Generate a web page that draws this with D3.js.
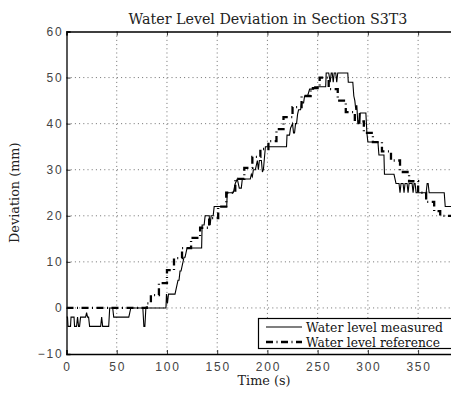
<!DOCTYPE html>
<html><head><meta charset="utf-8">
<script src="https://cdn.jsdelivr.net/npm/d3@7"></script>
<style>body{margin:0;background:#fff;overflow:hidden}</style>
</head><body>
<script>
// ---- data ----
const measuredT = [0,1,1.5,4,4.5,7.5,8,10,11,12,13,14,19,20,21,22,23,34,35,36,42,43,46,47,62,63,64,76,77,78,79,99,99.5,100.5,101.5,108,110,111,112,113,114,115,116,117,118,119,120,134.5,135,137,138,142,143,144,146,147,159.5,160,166,168,170,172,174,175,183,184,185,186,188,189,190,191,192,194,195,196,198,219,219.5,222,223,225,226,227,228,229,230,231,233,234,236,237,240,242,246,247,258,258.5,261,262.5,263.5,264.5,265.5,266.5,268,269,270,280,280.5,285,286,287,288,289,290,291,291.5,292,292.5,298,299,300,310,311,316,316.5,326,327,328,331,332,333,335,336,337,339,340,341,344,345,346,347,348,358,359,360,361,376,377,390];
const measuredV = [-2,-2,-4,-4,-2,-2,-4,-4,-2,-4,-4,-2,-2,-1,-2,-2,-4,-4,-2,-4,-4,0,0,-2,-2,-1,0,0,-4,-4,0,0,3,1,3,3,5,6,6,8,8,9,10,11,11,12,13,13,18,18,20,20,18,20,20,22,22,25,25,27,28,26,26,28,28,29,28.5,30,30,31,32,30,32,32,29.5,30,35,35,37.5,37.5,39,40,38,38,40,40,42,43,43,44.5,44.5,46,46,47.5,47.5,48,48,51,51,49,51,51,49,51,51,49,51,51,49,49,46,45,43,44,40,40,42.3,40,42.3,42.3,38,36,36,33.2,33.2,29,29,28,27,27,25,27,27,25,27,27,25,27,27,25,27,27,25,25,27,27,25,25,22,22];
const referenceT = [0,80,84,92,100,107,115,124,133,142,151,159,168,177,185,193,201,209,216,225,234,243,252,261,270,278,287,296,305,314,323,332,341,350,358,366,372,390];
const referenceV = [0,1,2.8,5.4,8.2,10.8,13,15.2,17.4,19.5,22,25,28,30.4,32.8,34.5,36.2,38.8,41.4,43.6,46,47.7,50,47.5,45,42.5,40.5,38,36,34,32,29.5,27.5,25,23,21,20,20];
const xTicks = [0,50,100,150,200,250,300,350,400];
const yTicks = [-10,0,10,20,30,40,50,60];
const seriesNames = ["Water level measured","Water level reference"];
const titleText = "Water Level Deviation in Section S3T3";
const xLabel = "Time (s)";
const yLabel = "Deviation (mm)";

// ---- layout ----
const W = 451, H = 394;
const L = 66.5, T = 31.5, B = 354;
const R = L + 400 * 1.0046;
const x = d3.scaleLinear().domain([0,400]).range([L,R]);
const y = d3.scaleLinear().domain([-10,60]).range([B,T]);

const svg = d3.select("body").append("svg").attr("width",W).attr("height",H)
  .style("font-family","'Liberation Sans', Arial, sans-serif");
svg.append("rect").attr("width",W).attr("height",H).attr("fill","#fff");

svg.append("defs").append("clipPath").attr("id","clip")
  .append("rect").attr("x",L).attr("y",T).attr("width",R-L).attr("height",B-T);

// grid
const grid = svg.append("g").attr("stroke","#000").attr("stroke-width",0.8)
  .attr("stroke-dasharray","1,3.2").attr("opacity",0.7);
grid.selectAll(".gx").data(xTicks.filter(d=>d>0)).join("line")
  .attr("x1",d=>x(d)).attr("x2",d=>x(d)).attr("y1",T).attr("y2",B);
grid.selectAll(".gy").data(yTicks.filter(d=>d>-10 && d<60)).join("line")
  .attr("x1",L).attr("x2",R).attr("y1",d=>y(d)).attr("y2",d=>y(d));

// data
const plot = svg.append("g").attr("clip-path","url(#clip)");
const measured = measuredT.map((t,i)=>[t,measuredV[i]]);
const reference = referenceT.map((t,i)=>[t,referenceV[i]]);
const dashRef = "7,3.5,1,3.5";
plot.append("path").datum(measured)
  .attr("d", d3.line().x(d=>x(d[0])).y(d=>y(d[1])))
  .attr("fill","none").attr("stroke","#000").attr("stroke-width",1.1);
plot.append("path").datum(reference)
  .attr("d", d3.line().curve(d3.curveStepAfter).x(d=>x(d[0])).y(d=>y(d[1])))
  .attr("fill","none").attr("stroke","#000").attr("stroke-width",2.3)
  .attr("stroke-dasharray",dashRef);

// axes (inward ticks)
const xAxisB = d3.axisBottom(x).tickValues(xTicks).tickSize(-4).tickFormat("");
const xAxisT = d3.axisTop(x).tickValues(xTicks).tickSize(-4).tickFormat("");
const yAxisL = d3.axisLeft(y).tickValues(yTicks).tickSize(-4).tickFormat("");
svg.append("g").attr("transform",`translate(0,${B})`).call(xAxisB);
svg.append("g").attr("transform",`translate(0,${T})`).call(xAxisT);
svg.append("g").attr("transform",`translate(${L},0)`).call(yAxisL);
svg.selectAll(".domain").attr("stroke","#000").attr("stroke-width",1.3);
svg.selectAll(".tick line").attr("stroke","#000").attr("stroke-width",0.8);

// tick labels
const fmt = d => (d<0 ? "\u2212" + Math.abs(d) : String(d));
svg.append("g").selectAll("text").data(xTicks.filter(d=>d<=350)).join("text")
  .attr("x",d=>x(d)+1).attr("y",371).attr("text-anchor","middle")
  .attr("font-size",12).attr("letter-spacing","1.8px").attr("fill","#444").text(fmt);
svg.append("g").selectAll("text").data(yTicks).join("text")
  .attr("x",L-3).attr("y",d=>y(d)+4.3).attr("text-anchor","end")
  .attr("font-size",12).attr("letter-spacing","1.8px").attr("fill","#444").text(fmt);

// serif texts
const serif = "'DejaVu Serif', 'Liberation Serif', serif";
function fit(sel, width){
  const w = sel.node().getComputedTextLength();
  const fs = parseFloat(sel.attr("font-size"));
  sel.attr("font-size", fs*width/w);
}
const title = svg.append("text").attr("x",268).attr("y",23.5).attr("text-anchor","middle")
  .attr("font-family",serif).attr("font-size",13).attr("fill","#222").text(titleText);
fit(title, 279);
const xl = svg.append("text").attr("x",264).attr("y",385).attr("text-anchor","middle")
  .attr("font-family",serif).attr("font-size",12).attr("fill","#222").text(xLabel);
fit(xl, 53);
const yl = svg.append("text").attr("transform",`translate(19,${(T+B)/2}) rotate(-90)`)
  .attr("text-anchor","middle").attr("font-family",serif).attr("font-size",parseFloat(xl.attr("font-size")))
  .attr("fill","#222").text(yLabel);

// legend
const lg = svg.append("g");
lg.append("rect").attr("x",258.5).attr("y",318.5).attr("width",220).attr("height",30)
  .attr("fill","#fff").attr("stroke","#000").attr("stroke-width",1.2);
const rows = [327, 342];
lg.append("line").attr("x1",266).attr("x2",302).attr("y1",rows[0]).attr("y2",rows[0])
  .attr("stroke","#000").attr("stroke-width",1.1);
lg.append("line").attr("x1",266).attr("x2",302).attr("y1",rows[1]).attr("y2",rows[1])
  .attr("stroke","#000").attr("stroke-width",2.3).attr("stroke-dasharray",dashRef);
seriesNames.forEach((n,i)=>{
  const t = lg.append("text").attr("x",306).attr("y",rows[i]+4.5)
    .attr("font-family",serif).attr("font-size",12).attr("fill","#111").text(n);
  fit(t, i===0 ? 137 : 134);
});
</script>
</body></html>
